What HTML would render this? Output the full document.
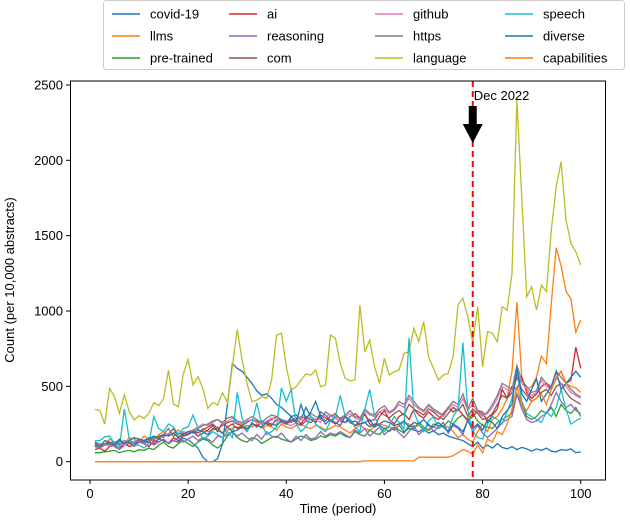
<!DOCTYPE html>
<html><head><meta charset="utf-8"><style>
body{margin:0;background:#fff;}
svg text{font-family:"Liberation Sans","DejaVu Sans",sans-serif;}
</style></head><body>
<svg id="chart" width="630" height="526" viewBox="0 0 630 526" xmlns="http://www.w3.org/2000/svg">
<rect x="0" y="0" width="630" height="526" fill="#fff"/>
<g id="plot"></g>
<rect x="70.5" y="81" width="535" height="399" fill="none" stroke="#000" stroke-width="1"/>
<g id="xticks"></g>
<g id="yticks"></g>
<text x="338" y="513" font-size="13" text-anchor="middle">Time (period)</text>
<text transform="translate(14,280) rotate(-90)" font-size="13" text-anchor="middle">Count (per 10,000 abstracts)</text>
<g id="legend"></g>
</svg>
<script>
const NS="http://www.w3.org/2000/svg";
const names=["covid-19","llms","pre-trained","ai","reasoning","com","github","https","language","speech","diverse","capabilities"];
const colors=["#1f77b4","#ff7f0e","#2ca02c","#d62728","#9467bd","#8c564b","#e377c2","#7f7f7f","#bcbd22","#17becf","#1f77b4","#ff7f0e"];
const xTicks=[0,20,40,60,80,100];
const yTicks=[0,500,1000,1500,2000,2500];
const eventX=78;
const eventLabel="Dec 2022";
const covid=[130,115,120,125,130,110,125,120,135,140,130,125,120,150,140,125,140,130,155,145,120,90,30,0,0,20,120,380,650,620,600,560,520,470,440,450,420,380,360,330,300,310,280,360,300,260,330,310,270,290,270,260,280,240,250,260,230,250,240,220,230,210,240,200,220,210,200,215,190,205,180,190,170,160,150,140,120,100,130,90,110,90,120,95,85,100,80,95,85,70,85,75,90,70,65,80,75,85,60,65];
const llms=[100,120,110,150,130,140,120,160,150,130,170,150,140,180,200,170,190,210,180,200,210,190,220,200,210,230,190,210,220,230,220,240,230,250,220,240,230,210,250,230,220,240,250,230,220,240,230,210,220,240,230,210,190,220,240,220,210,230,250,240,230,220,240,260,250,230,240,220,210,230,220,240,230,200,160,180,150,130,200,250,200,280,300,350,420,600,1060,560,480,500,560,700,650,1050,1420,1300,1130,1080,860,940];
const pretrained=[60,60,65,70,75,60,70,75,65,80,75,90,80,110,130,100,90,120,140,120,100,130,150,140,110,90,120,170,200,160,140,130,160,150,120,140,160,170,150,140,130,150,170,160,140,150,170,160,180,170,190,170,160,200,180,170,210,190,180,220,200,230,210,190,240,220,260,230,210,250,240,230,270,250,290,310,280,320,270,240,230,220,260,280,300,320,450,380,300,280,300,340,320,360,300,380,340,320,360,300];
const ai=[80,90,70,100,110,90,120,100,110,130,120,100,140,130,150,120,160,140,170,180,200,170,190,210,240,200,260,230,250,220,240,200,260,230,270,250,240,280,260,250,270,290,250,300,280,260,310,290,270,250,280,300,260,240,270,320,250,230,300,340,280,250,300,320,280,350,310,290,330,300,280,320,360,330,350,310,270,300,340,330,260,310,350,480,420,500,480,560,460,420,450,500,520,480,560,600,520,540,760,620];
const reasoning=[100,90,110,120,100,80,110,120,100,130,120,140,110,130,150,120,140,160,130,150,170,140,160,150,130,170,160,180,200,170,190,160,140,180,150,200,170,160,190,150,130,170,140,180,150,160,200,170,190,180,200,180,160,210,190,220,170,200,230,180,210,230,190,160,200,240,180,210,250,200,230,260,190,240,220,180,280,200,240,190,160,190,220,260,280,300,450,350,280,260,270,300,320,380,460,400,360,380,340,320];
const com=[110,100,120,130,110,140,120,130,110,150,140,130,160,150,170,180,220,160,190,180,200,190,210,230,250,220,240,260,270,250,240,260,280,270,250,260,280,300,270,260,280,260,240,270,260,280,290,270,300,320,280,260,300,320,290,310,270,280,330,310,290,320,340,310,380,350,330,310,350,330,300,280,320,360,340,380,300,350,320,280,290,320,380,440,420,460,560,480,440,400,420,460,480,440,500,520,460,420,400,380];
const github=[100,110,120,100,130,120,110,140,130,150,140,160,150,170,160,190,170,180,200,190,210,230,250,240,260,280,250,270,290,260,250,270,280,260,250,270,290,280,260,250,240,260,290,270,300,280,260,310,300,290,270,300,320,290,280,340,310,300,330,350,320,340,380,360,420,380,350,330,370,340,320,300,350,380,360,420,340,380,330,300,320,360,420,500,480,460,600,520,480,440,460,540,500,480,560,520,500,460,440,420];
const https=[100,110,120,110,130,120,140,130,120,150,140,160,150,170,180,220,170,190,180,200,210,220,240,250,270,280,260,290,300,270,260,280,300,280,260,290,310,300,280,270,260,280,300,290,320,300,280,330,310,300,290,310,340,300,290,350,320,310,350,370,330,350,400,380,440,400,360,340,380,350,330,310,360,400,380,450,350,420,340,310,330,380,440,520,500,480,640,540,500,460,470,560,520,500,600,560,520,480,450,430];
const language=[347,340,250,487,432,321,442,332,277,305,288,321,392,372,420,608,383,365,580,679,509,564,487,354,392,376,458,392,630,878,675,520,398,409,431,420,542,841,852,630,476,498,542,582,575,608,498,509,841,819,652,553,537,542,1040,730,807,630,520,686,575,597,608,719,730,885,796,929,697,619,542,575,586,697,1040,1084,962,796,1029,630,863,852,796,1029,1006,1250,2400,1747,1095,1161,1006,1172,1128,1537,1825,1991,1604,1449,1393,1305];
const speech=[140,140,165,170,120,90,350,150,110,110,90,120,300,220,200,250,230,180,220,230,310,220,150,170,200,180,160,200,160,460,290,200,250,390,250,180,200,230,490,400,480,250,200,230,300,250,220,200,270,300,440,300,280,230,200,350,480,300,230,200,240,300,260,220,820,330,250,200,270,300,220,240,200,300,350,790,340,200,160,150,250,300,280,250,330,420,600,400,320,300,280,260,330,300,360,480,350,250,270,290];
const diverse=[120,100,140,130,110,150,120,140,160,150,140,150,170,160,180,170,190,160,180,200,190,210,200,180,220,210,190,230,200,210,230,220,250,240,230,260,250,240,270,250,300,260,380,280,330,400,300,250,280,260,240,300,260,270,250,260,280,230,250,270,260,240,250,270,230,260,250,280,240,230,260,230,200,250,230,200,270,220,250,210,280,260,220,300,340,380,620,450,400,480,550,400,450,500,600,480,520,560,600,560];
const capabilities=[0,0,0,0,0,0,0,0,0,0,0,0,0,0,0,0,0,0,0,0,0,0,0,0,0,0,0,0,0,0,0,0,0,0,0,0,0,0,0,0,0,0,0,0,0,0,0,0,0,0,0,0,0,0,0,5,5,5,5,5,5,5,5,5,5,5,30,30,30,30,30,30,30,40,60,80,70,50,110,60,150,130,200,180,250,350,500,380,340,400,420,450,380,480,550,600,520,500,490,460];
const series=[covid,llms,pretrained,ai,reasoning,com,github,https,language,speech,diverse,capabilities];
const series_x=[1,2,3,4,5,6,7,8,9,10,11,12,13,14,15,16,17,18,19,20,21,22,23,24,25,26,27,28,29,30,31,32,33,34,35,36,37,38,39,40,41,42,43,44,45,46,47,48,49,50,51,52,53,54,55,56,57,58,59,60,61,62,63,64,65,66,67,68,69,70,71,72,73,74,75,76,77,78,79,80,81,82,83,84,85,86,87,88,89,90,91,92,93,94,95,96,97,98,99,100];

function xs(v){return 90+v*4.907;}
function ys(v){return 461.7-v*0.1507;}
const plot=document.getElementById('plot');
series.forEach((s,i)=>{
  const p=document.createElementNS(NS,'polyline');
  p.setAttribute('points',s.map((v,j)=>xs(series_x[j]).toFixed(1)+','+ys(v).toFixed(1)).join(' '));
  p.setAttribute('fill','none');p.setAttribute('stroke',colors[i]);p.setAttribute('stroke-width','1.3');
  
  
  p.setAttribute('data-series',names[i]);
  plot.appendChild(p);
});
const ev=document.createElementNS(NS,'line');
ev.setAttribute('x1',xs(eventX));ev.setAttribute('x2',xs(eventX));ev.setAttribute('y1',81);ev.setAttribute('y2',480);
ev.setAttribute('stroke','#ff0000');ev.setAttribute('stroke-width','2');ev.setAttribute('stroke-dasharray','6,4');


plot.appendChild(ev);
const ax=xs(eventX);
const ar=document.createElementNS(NS,'polygon');
ar.setAttribute('points',`${ax-4},106 ${ax+4},106 ${ax+4},124 ${ax+10},124 ${ax},143 ${ax-10},124 ${ax-4},124`);
ar.setAttribute('fill','#000');


plot.appendChild(ar);
const et=document.createElementNS(NS,'text');
et.setAttribute('x',ax+1);et.setAttribute('y',100);et.setAttribute('font-size','13');
et.textContent=eventLabel;


plot.appendChild(et);
const xg=document.getElementById('xticks');
xTicks.forEach(t=>{
  const l=document.createElementNS(NS,'line');
  l.setAttribute('x1',xs(t));l.setAttribute('x2',xs(t));l.setAttribute('y1',480);l.setAttribute('y2',484);l.setAttribute('stroke','#000');
  
  
  xg.appendChild(l);
  const tx=document.createElementNS(NS,'text');
  tx.setAttribute('x',xs(t));tx.setAttribute('y',498);tx.setAttribute('font-size','13');tx.setAttribute('text-anchor','middle');
  tx.textContent=t;
  
  
  xg.appendChild(tx);
});
const yg=document.getElementById('yticks');
yTicks.forEach(t=>{
  const l=document.createElementNS(NS,'line');
  l.setAttribute('x1',66);l.setAttribute('x2',70.5);l.setAttribute('y1',ys(t));l.setAttribute('y2',ys(t));l.setAttribute('stroke','#000');
  
  
  yg.appendChild(l);
  const tx=document.createElementNS(NS,'text');
  tx.setAttribute('x',63);tx.setAttribute('y',ys(t)+4.5);tx.setAttribute('font-size','13');tx.setAttribute('text-anchor','end');
  tx.textContent=t;
  
  
  yg.appendChild(tx);
});
const lg=document.getElementById('legend');
const box=document.createElementNS(NS,'rect');
box.setAttribute('x',103.5);box.setAttribute('y',0.5);box.setAttribute('width',521);box.setAttribute('height',69);box.setAttribute('rx',3);
box.setAttribute('fill','#fff');box.setAttribute('stroke','#ccc');


lg.appendChild(box);
const colX=[112,229,375,505];
names.forEach((n,i)=>{
  const c=Math.floor(i/3), r=i%3;
  const yy=14+r*22;
  const l=document.createElementNS(NS,'line');
  l.setAttribute('x1',colX[c]);l.setAttribute('x2',colX[c]+28);l.setAttribute('y1',yy);l.setAttribute('y2',yy);
  l.setAttribute('stroke',colors[i]);l.setAttribute('stroke-width','1.5');
  
  
  lg.appendChild(l);
  const t=document.createElementNS(NS,'text');
  t.setAttribute('x',colX[c]+38);t.setAttribute('y',yy+4.5);t.setAttribute('font-size','13');
  t.textContent=n;
  
  
  lg.appendChild(t);
});
</script>
</body></html>
